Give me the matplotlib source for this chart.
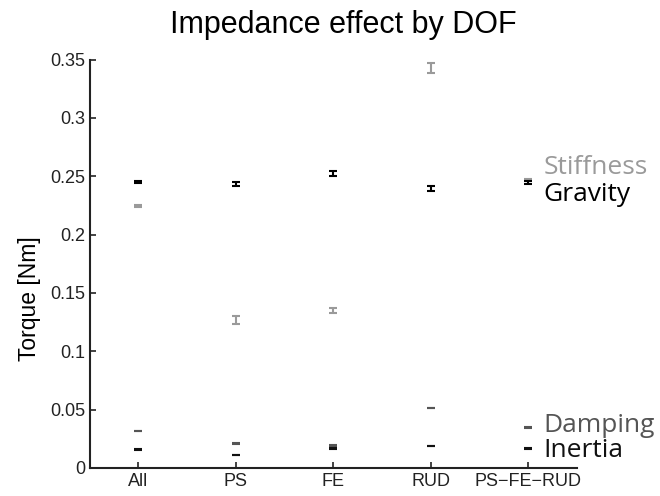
import matplotlib
matplotlib.use("Agg")
import matplotlib.pyplot as plt

categories = ["All", "PS", "FE", "RUD", "PS\u2212FE\u2212RUD"]
stiffness = [0.2243, 0.1268, 0.1352, 0.3428, 0.2472]
stiffness_err = [0.0010, 0.0034, 0.0020, 0.0045, 0.0008]
gravity = [0.2451, 0.2434, 0.2525, 0.2397, 0.2448]
gravity_err = [0.0010, 0.0017, 0.0020, 0.0020, 0.0012]
damping = [0.0317, 0.0208, 0.0194, 0.0514, 0.0345]
damping_err = [0.0003, 0.0003, 0.0003, 0.0003, 0.0003]
inertia = [0.0160, 0.0111, 0.0166, 0.0189, 0.0168]
inertia_err = [0.0003, 0.0003, 0.0003, 0.0003, 0.0003]

label_names = ["Stiffness", "Gravity", "Damping", "Inertia"]
label_y = [0.2575, 0.234, 0.036, 0.015]

colors = {"Stiffness": "#9a9a9a", "Gravity": "#000000",
          "Damping": "#555555", "Inertia": "#111111"}

fig = plt.figure(figsize=(6.6, 4.96), dpi=100)
ax = fig.add_axes([0.136, 0.0565, 0.738, 0.8235])

x = list(range(1, len(categories) + 1))
series = [("Stiffness", stiffness, stiffness_err),
          ("Gravity", gravity, gravity_err),
          ("Damping", damping, damping_err),
          ("Inertia", inertia, inertia_err)]
for name, vals, errs in series:
    ax.errorbar(x, vals, yerr=errs, fmt="none", ecolor=colors[name],
                elinewidth=1.5, capsize=3.2, capthick=1.5)

ax.set_xlim(0.5, 5.5)
ax.set_ylim(0, 0.35)
ax.set_xticks(x)
ax.set_xticklabels(categories)
ax.set_yticks([0, 0.05, 0.1, 0.15, 0.2, 0.25, 0.3, 0.35])
ax.set_yticklabels(["0", "0.05", "0.1", "0.15", "0.2", "0.25", "0.3", "0.35"])
for s in ["top", "right"]:
    ax.spines[s].set_visible(False)
for s in ["left", "bottom"]:
    ax.spines[s].set_linewidth(1.5)
    ax.spines[s].set_color("#222222")
ax.tick_params(direction="in", length=4, width=1.2, colors="#222222",
               labelsize=13)
ax.tick_params(axis="y", pad=3)
for lab in ax.get_xticklabels() + ax.get_yticklabels():
    lab.set_family("Liberation Sans")
    lab.set_color("#222222")

ax.set_ylabel("Torque [Nm]", fontsize=16.5, family="Liberation Sans")
ax.yaxis.set_label_coords(-0.101, 0.415)
ax.set_title("Impedance effect by DOF", fontsize=22, family="Liberation Sans",
             pad=19, x=0.52)

for name, yv in zip(label_names, label_y):
    ax.text(5.16, yv, name, color=colors[name], fontsize=19,
            family="Open Sans", va="center", ha="left", clip_on=False)

fig.savefig("out.png", dpi=100)
